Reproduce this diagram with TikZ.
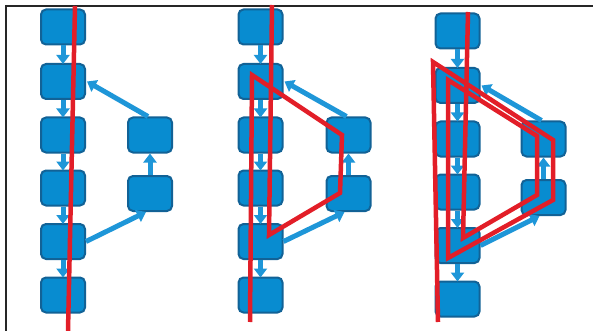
\documentclass[tikz,border=0pt]{standalone}
\usetikzlibrary{arrows.meta}
\definecolor{boxblue}{RGB}{8,140,208}
\definecolor{boxedge}{RGB}{18,98,150}
\definecolor{arrblue}{RGB}{30,150,216}
\definecolor{redline}{RGB}{226,30,40}
\begin{document}
\begin{tikzpicture}[x=1pt,y=-1pt,
  blk/.style={draw=boxedge, line width=2pt, fill=boxblue, rounded corners=5pt,
              minimum width=44pt, minimum height=35pt, inner sep=0pt},
  flow/.style={draw=arrblue, line width=5pt, -{Triangle[width=13pt,length=9pt]}},
  trace/.style={draw=redline, line width=4.5pt, line join=miter},
  frame/.style={draw=black!85, line width=1.5pt}]
\useasboundingbox (0,0) rectangle (593,331);
% frame
\draw[frame] (5,6) -- (593,6);
\draw[frame, line width=2.5pt] (5,6) -- (40,6);
\draw[frame, line width=2.5pt] (567,6) -- (593,6);
\draw[frame, line width=2pt] (6,5) -- (6,331);
% panels
\foreach \p/\lx/\rx/\dy in {1/63/150/0, 2/260.5/348.5/0, 3/457.5/543.5/4} {
  \foreach \i/\y in {1/27,2/81.5,3/135,4/188,5/241.5,6/295}
    \node[blk] (p\p b\i) at (\lx,\y+\dy) {};
  \node[blk] (p\p r1) at (\rx,135+\dy) {};
  \node[blk] (p\p r2) at (\rx,193.5+\dy) {};
  \foreach \i [evaluate=\i as \j using int(\i+1)] in {1,...,5}
    \draw[flow] (p\p b\i.south) -- ([yshift=-1pt]p\p b\j.north);
  \draw[flow] (p\p b5.east) -- ([xshift=-4pt]p\p r2.south);
  \draw[flow] (p\p r2.north) -- (p\p r1.south);
  \draw[flow] ([xshift=-2pt]p\p r1.north) -- ([xshift=1pt]p\p b2.east);
}
% red traces
\draw[trace] (75,6) -- (68,331);
\draw[trace] (272,5) -- (269,235) -- (340,193) -- (342,135) -- (252,75) -- (250,322);
\draw[trace] (468,12) -- (463,238) -- (537,195) -- (537,136) -- (448,80) -- (448,258)
  -- (553,200) -- (553,140) -- (433,62) -- (438,322);
\end{tikzpicture}
\end{document}
